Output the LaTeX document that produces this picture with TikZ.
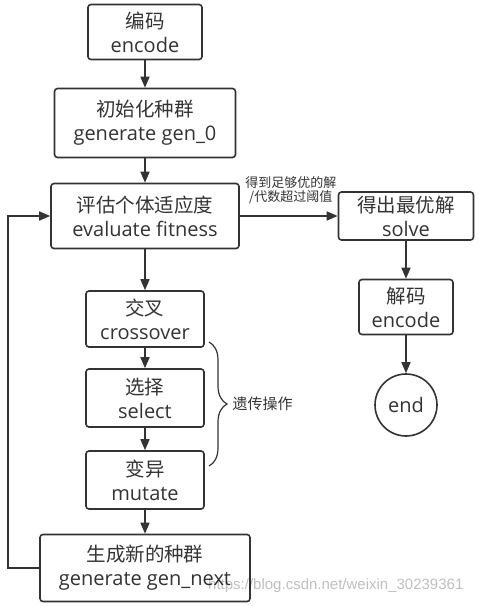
\documentclass[tikz,border=0pt]{standalone}
\usepackage{fontspec}
\setmainfont{Open Sans}
\newfontfamily\cjk{Noto Sans CJK SC}
\newfontfamily\wmfont{Liberation Sans}
\usetikzlibrary{arrows.meta,decorations.pathreplacing}
\definecolor{ink}{HTML}{333333}
\tikzset{
  box/.style={draw=ink,line width=1.6pt,rounded corners=3pt,align=center,
    inner sep=0pt,text=ink,font=\fontsize{20}{24}\selectfont},
  flow/.style={draw=ink,line width=1.6pt,-{Triangle[length=11pt,width=9pt]}},
  note/.style={text=ink,align=center,inner sep=1pt},
}
\newcommand\zh[1]{{\cjk\fontsize{19.5}{24}\selectfont #1}}
\begin{document}
\begin{tikzpicture}[x=1pt,y=-1pt]
\useasboundingbox (0,0) rectangle (487,606);
% left column
\node[box,minimum width=114pt,minimum height=55pt] (enc) at (145,32) {\zh{编码}\\encode};
\node[box,minimum width=181pt,minimum height=69pt] (init) at (145,123) {\zh{初始化种群}\\generate gen\_0};
\node[box,minimum width=188pt,minimum height=65pt] (eval) at (145,216) {\zh{评估个体适应度}\\evaluate fitness};
\node[box,minimum width=118pt,minimum height=56pt] (cross) at (145,319) {\zh{交叉}\\crossover};
\node[box,minimum width=118pt,minimum height=58pt] (sel) at (145,398) {\zh{选择}\\select};
\node[box,minimum width=118pt,minimum height=58pt] (mut) at (145,480) {\zh{变异}\\mutate};
\node[box,minimum width=210pt,minimum height=67pt] (next) at (145,568) {\zh{生成新的种群}\\generate gen\_next};
% right column
\node[box,minimum width=135pt,minimum height=48pt] (solve) at (406,216) {\zh{得出最优解}\\solve};
\node[box,minimum width=94pt,minimum height=55pt] (dec) at (406,307) {\zh{解码}\\encode};
\node[box,circle,rounded corners=0pt,minimum size=62pt] (end) at (406,405) {end};
% arrows
\draw[flow] (enc) -- (init);
\draw[flow] (init) -- (eval);
\draw[flow] (eval) -- (cross);
\draw[flow] (cross) -- (sel);
\draw[flow] (sel) -- (mut);
\draw[flow] (mut) -- (next);
\draw[flow] (eval) -- node[note,above=10pt,xshift=2pt,font=\cjk\fontsize{13}{14}\selectfont] (cond) {得到足够优的解\\/代数超过阈值} (solve);
\draw[flow] (solve) -- (dec);
\draw[flow] (dec) -- (end);
\draw[flow] (next.west) -- ++(-31,0) |- (eval.west); % loop back
% brace
\draw[decorate,decoration={brace,amplitude=18pt},draw=ink,line width=1.2pt] (209,342) -- (209,466)
  node[note,midway,right=22pt,font=\cjk\fontsize{15}{15}\selectfont] (ops) {遗传操作};
% watermark
\node[anchor=west,inner sep=0pt,text=black,opacity=0.25,font=\wmfont\fontsize{15}{15}\selectfont] (wm) at (208,586) {https://blog.csdn.net/weixin\_30239361};
\end{tikzpicture}
\end{document}
